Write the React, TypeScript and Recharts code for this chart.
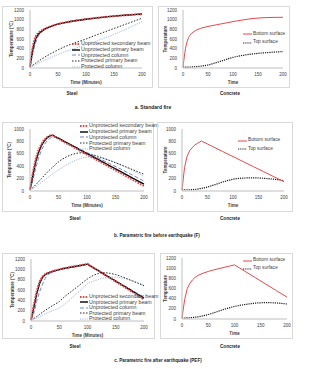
import React from "react";
import { LineChart, Line, XAxis, YAxis, Legend, Label } from "recharts";

// shared ticks
const timeTicks = [0, 50, 100, 150, 200];
const tempTicks1200 = [0, 200, 400, 600, 800, 1000, 1200];
const tempTicks1000 = [0, 200, 400, 600, 800, 1000];

// a. Standard fire - steel
const stdTime = [0, 5, 10, 15, 20, 25, 30, 40, 50, 60, 80, 100, 120, 140, 160, 180, 200];
const stdSecBeam = [20, 450, 650, 725, 770, 805, 832, 875, 910, 935, 978, 1010, 1038, 1062, 1083, 1100, 1117];
const stdPriBeam = [20, 380, 600, 700, 755, 795, 825, 872, 908, 934, 977, 1010, 1038, 1062, 1083, 1100, 1117];
const stdColumn = [20, 300, 520, 660, 738, 785, 818, 868, 905, 932, 976, 1009, 1037, 1061, 1082, 1099, 1116];
const stdProtBeam = [20, 60, 100, 140, 180, 215, 250, 315, 375, 430, 520, 600, 690, 775, 860, 945, 1030];
const stdProtCol = [20, 45, 70, 97, 125, 152, 180, 230, 280, 325, 405, 480, 565, 650, 745, 850, 958];

// a. Standard fire - concrete
const stdBottom = [20, 400, 600, 690, 740, 775, 800, 835, 860, 880, 920, 960, 995, 1025, 1040, 1047, 1050];
const stdTop = [20, 20, 20, 21, 23, 27, 32, 45, 62, 90, 155, 220, 262, 292, 312, 327, 340];

// b. Parametric fire before earthquake (F) - steel
const fTime = [0, 5, 10, 15, 20, 25, 30, 35, 38, 40, 45, 50, 60, 70, 80, 90, 100, 110, 120, 140, 160, 180, 200];
const fSecBeam = [20, 300, 520, 660, 760, 830, 870, 895, 902, 892, 866, 841, 790, 740, 689, 638, 587, 537, 486, 384, 283, 181, 80];
const fPriBeam = [20, 250, 470, 620, 730, 808, 858, 888, 897, 900, 875, 851, 801, 752, 703, 653, 604, 554, 505, 406, 308, 209, 110];
const fColumn = [20, 170, 370, 530, 655, 748, 808, 848, 865, 875, 862, 845, 800, 755, 710, 665, 620, 575, 530, 440, 350, 255, 160];
const fProtBeam = [20, 55, 100, 150, 200, 250, 300, 345, 370, 385, 430, 470, 530, 575, 605, 615, 605, 585, 558, 490, 420, 345, 270];
const fProtCol = [20, 40, 70, 105, 140, 175, 210, 245, 265, 278, 310, 340, 400, 450, 495, 528, 545, 548, 540, 495, 420, 330, 235];

// b. Parametric fire before earthquake (F) - concrete
const fcTime = [0, 5, 10, 15, 20, 25, 30, 35, 38, 40, 50, 60, 80, 100, 120, 140, 160, 180, 200];
const fcBottom = [20, 380, 560, 650, 700, 740, 768, 792, 806, 798, 758, 717, 636, 555, 474, 393, 312, 231, 150];
const fcTop = [20, 20, 20, 20, 22, 25, 30, 37, 42, 45, 65, 90, 145, 190, 208, 212, 205, 190, 168];

// c. Parametric fire after earthquake (PEF) - steel
const pTime = [0, 5, 10, 15, 20, 25, 30, 40, 50, 60, 70, 80, 90, 100, 110, 120, 130, 140, 150, 160, 170, 180, 190, 200];
const pSecBeam = [20, 320, 580, 760, 860, 910, 935, 970, 1000, 1025, 1045, 1065, 1085, 1105, 1036, 968, 899, 830, 762, 693, 624, 556, 487, 418];
const pPriBeam = [20, 260, 520, 720, 840, 895, 925, 965, 995, 1020, 1040, 1060, 1080, 1100, 1034, 969, 903, 837, 771, 706, 640, 574, 508, 443];
const pColumn = [20, 150, 380, 560, 700, 820, 900, 960, 990, 1015, 1038, 1058, 1078, 1098, 1034, 970, 906, 842, 778, 714, 650, 586, 522, 460];
const pProtBeam = [20, 50, 85, 125, 165, 205, 240, 310, 375, 475, 560, 645, 730, 815, 880, 920, 935, 922, 897, 862, 818, 772, 727, 682];
const pProtCol = [20, 35, 60, 85, 110, 140, 165, 205, 250, 330, 420, 520, 620, 720, 770, 805, 832, 848, 848, 835, 810, 780, 740, 700];

// c. Parametric fire after earthquake (PEF) - concrete
const pcTime = [0, 5, 10, 15, 20, 25, 30, 40, 50, 60, 70, 80, 90, 100, 110, 120, 140, 160, 180, 200];
const pcBottom = [20, 380, 600, 700, 770, 820, 855, 900, 935, 965, 990, 1015, 1040, 1065, 1002, 938, 811, 684, 557, 430];
const pcTop = [20, 20, 22, 25, 30, 35, 42, 62, 88, 120, 155, 190, 220, 247, 268, 285, 312, 322, 315, 295];

type Series = { key: string; name: string; color: string; width: number; dash?: string };

const steelSeries: Series[] = [
  { key: "sec", name: "Unprotected secondary beam", color: "#e3464b", width: 2, dash: "1.6 1.2" },
  { key: "pri", name: "Unprotected primary beam", color: "#000000", width: 1.4 },
  { key: "col", name: "Unprotected column", color: "#6a8cc7", width: 1, dash: "4 2" },
  { key: "pbeam", name: "Protected primary beam", color: "#2b2b2b", width: 1, dash: "1.5 1.5" },
  { key: "pcol", name: "Protected column", color: "#9fb7de", width: 1, dash: "1.2 1.2" },
];
const steelDrawOrder = ["pcol", "pbeam", "col", "pri", "sec"];

const concreteSeries: Series[] = [
  { key: "bottom", name: "Bottom surface", color: "#e8474d", width: 1 },
  { key: "top", name: "Top surface", color: "#1a1a1a", width: 1.2, dash: "1.2 1" },
];
const concreteDrawOrder = ["top", "bottom"];

const rowsOf = (time: number[], cols: Record<string, number[]>) =>
  time.map((t, i) => {
    const r: Record<string, number> = { t };
    Object.keys(cols).forEach((k) => (r[k] = cols[k][i]));
    return r;
  });

type Box = { x: number; y: number; w: number; h: number };
type Plot = { x0: number; x1: number; y0: number; y1: number };
type LegendPos = { x: number; y: number; rowH: number; font: number; swatch: number };

interface PanelProps {
  box: Box;
  plot: Plot;
  rows: Record<string, number>[];
  series: Series[];
  drawOrder: string[];
  linearKeys: string[];
  yMax: number;
  yTicks: number[];
  xTitle: string;
  yTitle: string;
  yTitleX: number;
  legend: LegendPos;
}

const axisColor = "#bfbfbf";
const textColor = "#404040";

const Panel: React.FC<PanelProps> = (p) => {
  const { box, plot, legend } = p;
  const top = plot.y0 - box.y;
  const right = box.x + box.w - plot.x1;
  const yAxisW = plot.x0 - box.x;
  const xAxisH = box.y + box.h - plot.y1;
  const byKey: Record<string, Series> = {};
  p.series.forEach((s) => (byKey[s.key] = s));

  const xTitleEl = () => (
    <text
      x={(plot.x0 + plot.x1) / 2 - box.x}
      y={plot.y1 + 14 - box.y}
      textAnchor="middle"
      dominantBaseline="central"
      fontSize={4.5}
      fontWeight="bold"
      fill={textColor}
    >
      {p.xTitle}
    </text>
  );
  const yx = p.yTitleX - box.x;
  const yy = (plot.y0 + plot.y1) / 2 - box.y;
  const yTitleEl = () => (
    <text
      x={yx}
      y={yy}
      transform={`rotate(-90 ${yx} ${yy})`}
      textAnchor="middle"
      dominantBaseline="central"
      fontSize={4.5}
      fontWeight="bold"
      fill={textColor}
    >
      {p.yTitle}
    </text>
  );

  const legendContent = () => (
    <div style={{ fontSize: legend.font, color: textColor, whiteSpace: "nowrap" }}>
      {p.series.map((s) => (
        <div key={s.key} style={{ display: "flex", alignItems: "center", height: legend.rowH }}>
          <svg width={legend.swatch} height={4} style={{ display: "block" }}>
            <line x1={0} y1={2} x2={legend.swatch} y2={2} stroke={s.color} strokeWidth={s.width} strokeDasharray={s.dash} />
          </svg>
          <span style={{ marginLeft: 1, lineHeight: 1 }}>{s.name}</span>
        </div>
      ))}
    </div>
  );

  return (
    <>
      <div
        style={{
          position: "absolute",
          left: box.x,
          top: box.y,
          width: box.w,
          height: box.h,
          border: "1px solid #d9d9d9",
          boxSizing: "border-box",
        }}
      />
      <div style={{ position: "absolute", left: box.x, top: box.y }}>
        <LineChart width={box.w} height={box.h} data={p.rows} margin={{ top, right, bottom: 0, left: 0 }}>
          <XAxis
            dataKey="t"
            type="number"
            domain={[0, 200]}
            ticks={timeTicks}
            interval={0}
            height={xAxisH}
            tickLine={false}
            tickSize={4}
            tickMargin={1}
            axisLine={{ stroke: axisColor }}
            tick={{ fontSize: 4.5, fill: textColor }}
          >
            <Label content={xTitleEl} />
          </XAxis>
          <YAxis
            type="number"
            domain={[0, p.yMax]}
            ticks={p.yTicks}
            interval={0}
            width={yAxisW}
            tickLine={false}
            tickSize={4}
            tickMargin={2}
            axisLine={{ stroke: axisColor }}
            tick={{ fontSize: 4.5, fill: textColor }}
          >
            <Label content={yTitleEl} />
          </YAxis>
          <Legend
            layout="vertical"
            align="center"
            verticalAlign="middle"
            wrapperStyle={{ left: legend.x - box.x, top: legend.y - box.y, width: "auto" }}
            content={legendContent}
          />
          {p.drawOrder.map((k) => {
            const s = byKey[k];
            return (
              <Line
                key={k}
                dataKey={k}
                name={s.name}
                type={p.linearKeys.includes(k) ? "linear" : "monotone"}
                stroke={s.color}
                strokeWidth={s.width}
                strokeDasharray={s.dash}
                dot={false}
                activeDot={false}
                isAnimationActive={false}
              />
            );
          })}
        </LineChart>
      </div>
    </>
  );
};

const Caption: React.FC<{ x: number; y: number; text: string; size?: number }> = ({ x, y, text, size = 4.6 }) => (
  <div
    style={{
      position: "absolute",
      left: x - 100,
      top: y - 4,
      width: 200,
      height: 8,
      lineHeight: "8px",
      textAlign: "center",
      fontSize: size,
      fontWeight: "bold",
      color: "#222",
      whiteSpace: "nowrap",
    }}
  >
    {text}
  </div>
);

export default function App() {
  const stdSteelRows = rowsOf(stdTime, { sec: stdSecBeam, pri: stdPriBeam, col: stdColumn, pbeam: stdProtBeam, pcol: stdProtCol });
  const stdConcRows = rowsOf(stdTime, { bottom: stdBottom, top: stdTop });
  const fSteelRows = rowsOf(fTime, { sec: fSecBeam, pri: fPriBeam, col: fColumn, pbeam: fProtBeam, pcol: fProtCol });
  const fConcRows = rowsOf(fcTime, { bottom: fcBottom, top: fcTop });
  const pSteelRows = rowsOf(pTime, { sec: pSecBeam, pri: pPriBeam, col: pColumn, pbeam: pProtBeam, pcol: pProtCol });
  const pConcRows = rowsOf(pcTime, { bottom: pcBottom, top: pcTop });

  return (
    <div
      style={{
        position: "absolute",
        left: 0,
        top: 0,
        width: 316,
        height: 369,
        background: "#fff",
        fontFamily: "'Liberation Sans', Arial, sans-serif",
        overflow: "hidden",
      }}
    >
      {/* row a */}
      <Panel
        box={{ x: 2, y: 6, w: 151, h: 82 }}
        plot={{ x0: 30, x1: 142, y0: 10, y1: 68 }}
        rows={stdSteelRows}
        series={steelSeries}
        drawOrder={steelDrawOrder}
        linearKeys={[]}
        yMax={1200}
        yTicks={tempTicks1200}
        xTitle="Time (Minutes)"
        yTitle="Temperature (°C)"
        yTitleX={11}
        legend={{ x: 72, y: 41, rowH: 5.75, font: 5.3, swatch: 8 }}
      />
      <Panel
        box={{ x: 158, y: 6, w: 132, h: 82 }}
        plot={{ x0: 183, x1: 283, y0: 10, y1: 68 }}
        rows={stdConcRows}
        series={concreteSeries}
        drawOrder={concreteDrawOrder}
        linearKeys={[]}
        yMax={1200}
        yTicks={tempTicks1200}
        xTitle="Time"
        yTitle="Temperature"
        yTitleX={165}
        legend={{ x: 243, y: 30.1, rowH: 8.4, font: 4.8, swatch: 9 }}
      />
      <Caption x={72} y={94} text="Steel" />
      <Caption x={230} y={94} text="Concrete" />
      <Caption x={153} y={107} text="a. Standard fire" size={5} />

      {/* row b */}
      <Panel
        box={{ x: 2, y: 122, w: 152, h: 90 }}
        plot={{ x0: 30, x1: 144, y0: 129, y1: 191 }}
        rows={fSteelRows}
        series={steelSeries}
        drawOrder={steelDrawOrder}
        linearKeys={["sec", "pri", "col"]}
        yMax={1000}
        yTicks={tempTicks1000}
        xTitle="Time (Minutes)"
        yTitle="Temperature (°C)"
        yTitleX={9}
        legend={{ x: 80, y: 123.1, rowH: 5.75, font: 5.3, swatch: 8 }}
      />
      <Panel
        box={{ x: 157, y: 122, w: 136, h: 90 }}
        plot={{ x0: 182, x1: 284, y0: 129, y1: 191 }}
        rows={fConcRows}
        series={concreteSeries}
        drawOrder={concreteDrawOrder}
        linearKeys={["bottom"]}
        yMax={1000}
        yTicks={tempTicks1000}
        xTitle="Time"
        yTitle="Temperature"
        yTitleX={165}
        legend={{ x: 238, y: 136.8, rowH: 8.2, font: 4.8, swatch: 9 }}
      />
      <Caption x={75} y={219} text="Steel" />
      <Caption x={230} y={219} text="Concrete" />
      <Caption x={157} y={236} text="b. Parametric fire before earthquake (F)" />

      {/* row c */}
      <Panel
        box={{ x: 2, y: 253, w: 153, h: 86 }}
        plot={{ x0: 31, x1: 144, y0: 259, y1: 321 }}
        rows={pSteelRows}
        series={steelSeries}
        drawOrder={steelDrawOrder}
        linearKeys={["sec", "pri", "col"]}
        yMax={1200}
        yTicks={tempTicks1200}
        xTitle="Time (Minutes)"
        yTitle="Temperature (°C)"
        yTitleX={12}
        legend={{ x: 80, y: 293.9, rowH: 5.6, font: 5.3, swatch: 8 }}
      />
      <Panel
        box={{ x: 160, y: 253, w: 133, h: 86 }}
        plot={{ x0: 182, x1: 287, y0: 258, y1: 319 }}
        rows={pConcRows}
        series={concreteSeries}
        drawOrder={concreteDrawOrder}
        linearKeys={["bottom"]}
        yMax={1200}
        yTicks={tempTicks1200}
        xTitle="Time"
        yTitle="Temperature"
        yTitleX={165}
        legend={{ x: 243, y: 256.7, rowH: 8, font: 4.8, swatch: 9 }}
      />
      <Caption x={75} y={347} text="Steel" />
      <Caption x={230} y={347} text="Concrete" />
      <Caption x={158} y={361} text="c. Parametric fire after earthquake (PEF)" />
    </div>
  );
}
